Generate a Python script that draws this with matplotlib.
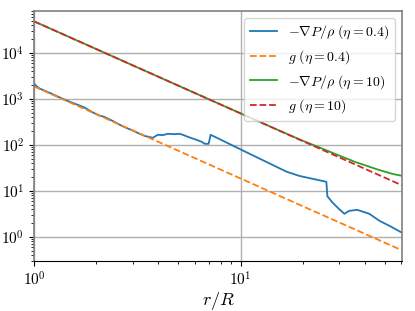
import matplotlib
matplotlib.use("Agg")
import matplotlib.pyplot as plt

plt.rcParams['mathtext.fontset'] = 'cm'
plt.rcParams['font.family'] = 'serif'
plt.rcParams['font.serif'] = ['cmr10', 'DejaVu Serif']
plt.rcParams['axes.formatter.use_mathtext'] = True

# eta = 0.4 : -grad P / rho
r_blue = [1.0, 1.02, 1.05, 1.1, 1.2, 1.3, 1.45, 1.6, 1.75, 1.9, 2.05, 2.2, 2.4, 2.6, 2.8,
          3.0, 3.2, 3.45, 3.76, 3.97, 4.2, 4.44, 4.8, 5.07, 5.3, 5.55, 6.0, 6.48, 6.7,
          7.0, 7.16, 10.8, 16.7, 19.3, 26.0, 26.3, 27.8, 30.0, 31.8, 33.5, 36.7, 42.0,
          47.0, 53.0, 61.0]
v_blue = [2150, 1950, 1720, 1560, 1320, 1120, 900, 760, 650, 520, 440, 400, 330, 272, 232,
          205, 178, 155, 142, 165, 162, 173, 170, 173, 162, 149, 132, 116, 105,
          105, 165, 67, 26, 21, 15.7, 7.6, 5.6, 4.0, 3.16, 3.67, 3.86, 3.16,
          2.23, 1.7, 1.2]

# eta = 0.4 : g
r_g04 = [1.0, 2.0, 5.0, 10.0, 20.0, 40.0, 61.0]
v_g04 = [1850, 462, 74, 18.5, 4.62, 1.16, 0.50]

# eta = 10 : -grad P / rho
r_green = [1.0, 2.0, 5.0, 10.0, 15.0, 20.0, 24.0, 27.8, 32.0, 36.0, 40.0, 45.0, 50.0,
           55.0, 61.0]
v_green = [48000, 12000, 1920, 480, 214, 122, 88, 67, 52, 42, 36, 30, 26, 23, 21]

# eta = 10 : g
r_g10 = [1.0, 2.0, 5.0, 10.0, 20.0, 40.0, 61.0]
v_g10 = [48000, 12000, 1920, 480, 120, 30, 12.9]

fig = plt.figure(figsize=(4.15, 3.11), dpi=100)
ax = fig.add_axes([0.082, 0.161, 0.887, 0.804])

ax.loglog(r_blue, v_blue, color='#1f77b4', lw=1.3, label=r'$-\nabla P/\rho\ (\eta=0.4)$')
ax.loglog(r_g04, v_g04, color='#ff7f0e', lw=1.3, ls='--', label=r'$g\ (\eta=0.4)$')
ax.loglog(r_green, v_green, color='#2ca02c', lw=1.3, label=r'$-\nabla P/\rho\ (\eta=10)$')
ax.loglog(r_g10, v_g10, color='#d62728', lw=1.3, ls='--', label=r'$g\ (\eta=10)$')

ax.set_xlim(1, 60.5)
ax.set_ylim(0.3, 81000)
ax.grid(True, which='major', color='#b0b0b0', lw=1.0)
ax.set_xlabel(r'$r/R$', fontsize=13, labelpad=1)
ax.tick_params(labelsize=11)
for s in ['top', 'right', 'left']:
    ax.spines[s].set_color('#808080')
    ax.spines[s].set_linewidth(1.2)

leg = ax.legend(loc='upper right', fontsize=10, handlelength=2.0,
                borderaxespad=0.5, labelspacing=0.5)

fig.savefig('out.png', dpi=100)
